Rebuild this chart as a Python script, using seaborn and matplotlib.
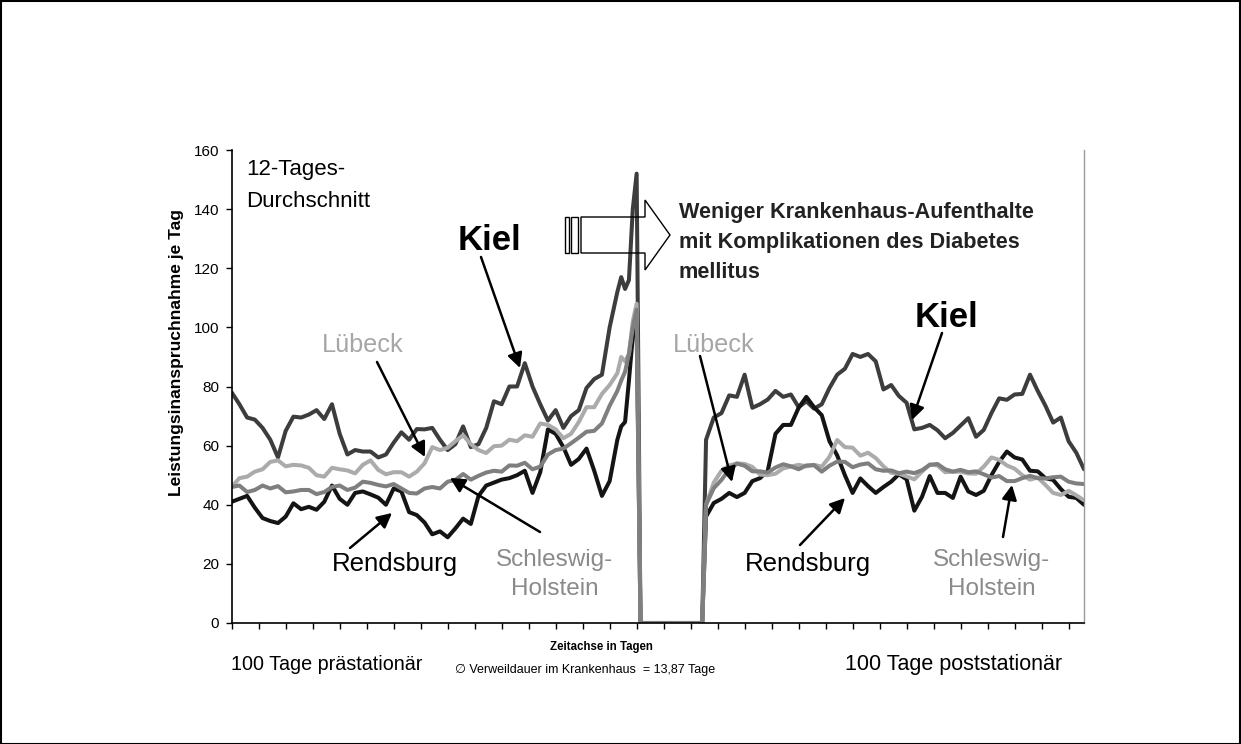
import numpy as np
import pandas as pd
import matplotlib
matplotlib.use("Agg")
import matplotlib.pyplot as plt
import seaborn as sns
from matplotlib.patches import Rectangle, Polygon, FancyArrowPatch

# ---------------- data ----------------
days_pre = list(range(0, 101, 2)) + [101, 102, 103, 104, 105]
days_hosp = [106, 122]
days_post = list(range(123, 222, 2))

kiel_pre = [78, 74, 69.5, 68.8, 66, 62, 56, 65, 69.8, 69.5, 70.5, 72, 69, 74, 64, 57, 58.5, 58, 58, 56,
            57, 61, 64.5, 62, 65.6, 65.5, 66, 62, 58.5, 60.5, 66.5, 59.5, 60.5, 66, 75, 74, 80, 80, 87.9, 80,
            74, 68.5, 72, 66, 70, 72, 79.5, 82.5, 84, 100, 112, 117, 113, 116, 140, 152]
rendsburg_pre = [41, 42, 43, 39, 35.5, 34.5, 33.8, 36, 40.5, 38.5, 39.3, 38.3, 41, 46.5, 42, 40, 44, 44.5, 43.5, 42.4,
                 40, 45.5, 44.5, 37.5, 36.5, 34, 30, 31, 29, 32, 35.3, 33.5, 43, 46.5, 47.5, 48.5, 49, 50, 51.5, 44,
                 51, 65.5, 64, 59.5, 53.5, 55.5, 59, 51.5, 43, 48, 62, 66.5, 68, 82, 97, 100]
luebeck_pre = [46, 49, 49.5, 51.2, 52, 54.5, 55, 53, 53.5, 53.3, 52.5, 50, 49.5, 52.5, 52, 51.6, 50.6, 53.5, 55, 51.8,
               50.3, 51, 51, 49.5, 51.2, 54, 59.5, 58.5, 59.3, 61.5, 63.5, 60.5, 58.5, 57.5, 59.8, 60, 62, 61.5, 63.5, 63,
               67.5, 67, 65.5, 62.5, 64, 68, 73, 73, 77.5, 80.5, 84.5, 90, 88.5, 91, 102, 108]
sh_pre = [46, 46.5, 44.3, 45, 46.5, 45.5, 46.3, 44.2, 44.5, 45, 45, 43.6, 44.3, 46, 46.5, 45, 45.8, 47.8, 47.4, 46.7,
          46.2, 47, 45.5, 44, 43.8, 45.5, 46, 45.5, 47.8, 48.4, 50.4, 48.5, 49.8, 50.9, 51.5, 51.2, 53.3, 53.2, 54.2, 52,
          52.9, 57, 58.5, 59, 60.8, 62.7, 64.7, 65, 67.5, 73.5, 78.5, 82, 85, 91, 100, 106]

hosp_values = [0, 0]

kiel_post = [62, 69.5, 71, 77, 76.5, 84, 72.8, 74, 75.6, 78.5, 76.5, 77.3, 73, 75, 72.5, 74, 79.5, 84, 86, 91,
             90, 91, 88.5, 79, 80.5, 76.8, 74.5, 65.5, 66, 67, 65.2, 62.5, 64.3, 66.8, 69.3, 63, 65.3, 71, 76, 75.5,
             77.3, 77.5, 84, 78.5, 73.5, 67.8, 69.5, 61.5, 57.6, 52]
rendsburg_post = [36, 40.6, 42, 44, 42.6, 44, 48, 49, 51.5, 64, 67, 67, 72.8, 76.5, 73, 70.3, 61.5, 56.7, 50, 44,
                  48.9, 46.3, 44, 46, 47.8, 50.3, 48.6, 38, 42.7, 49.7, 44, 44, 42.3, 49.5, 44.5, 43.3, 44.7, 50, 54.5, 58,
                  56, 55.3, 51.5, 51.3, 49, 48.4, 45.3, 42.7, 42.3, 40]
luebeck_post = [40, 47.5, 51.5, 53.3, 54, 53.8, 52.8, 50.2, 50, 50.5, 52.3, 52.9, 53.5, 53, 53.5, 52.9, 56.2, 61.9, 59.5, 59.3,
                56.6, 57.6, 55.8, 53, 50.8, 50.5, 49.6, 48.6, 51.2, 53.6, 53.3, 51, 51.2, 51.2, 50.6, 50.5, 52.9, 56, 55.2, 53.3,
                52.2, 50, 48.5, 49.2, 46.7, 44, 43.3, 44.7, 43.2, 41.5]
sh_post = [40, 45.6, 48.4, 52, 53.9, 53.2, 51.3, 51.3, 50.9, 52.6, 53.7, 53, 52, 53.3, 53.4, 51.2, 53.2, 54.6, 54.5, 52.7,
           53.6, 54, 52, 51.5, 51.6, 50.7, 51.2, 50.7, 51.7, 53.5, 53.8, 52, 51.2, 51.8, 51, 51.3, 50.3, 49.2, 49.7, 48,
           48, 49, 49.8, 49, 48.9, 49.3, 49.5, 47.8, 47.2, 47]

regions = ["Kiel", "Rendsburg", "Lübeck", "Schleswig-Holstein"]
y_ticks = [0, 20, 40, 60, 80, 100, 120, 140, 160]

# ---------------- figure ----------------
W, H = 1241, 744
sns.set_theme(style="white")
plt.rcParams["font.family"] = ["Liberation Sans", "DejaVu Sans"]

def P(x, y):
    return (x / W, 1 - y / H)

days = days_pre + days_hosp + days_post
series = {
    "Kiel": kiel_pre + hosp_values + kiel_post,
    "Rendsburg": rendsburg_pre + hosp_values + rendsburg_post,
    "Lübeck": luebeck_pre + hosp_values + luebeck_post,
    "Schleswig-Holstein": sh_pre + hosp_values + sh_post,
}
df = pd.concat([pd.DataFrame({"Tag": days, "Wert": v, "Region": k}) for k, v in series.items()],
               ignore_index=True)
palette = {"Kiel": "#3d3d3d", "Rendsburg": "#141414", "Lübeck": "#ababab", "Schleswig-Holstein": "#7f7f7f"}

fig = plt.figure(figsize=(W / 100, H / 100), dpi=100)
fig.patch.set_facecolor("white")
x0, x1, ytop, ybot = 231.7, 1084, 150, 623
ax = fig.add_axes([x0 / W, 1 - ybot / H, (x1 - x0) / W, (ybot - ytop) / H])

sns.lineplot(data=df, x="Tag", y="Wert", hue="Region", hue_order=regions, palette=palette,
             estimator=None, sort=False, legend=False, ax=ax, linewidth=2.9,
             solid_joinstyle="round", solid_capstyle="round")

ax.set_xlim(0, 221)
ax.set_ylim(0, 160)
ax.set_yticks(y_ticks)
ax.set_yticklabels([str(t) for t in y_ticks], fontsize=11)
ax.set_xticks(np.arange(0, 222, 7))
ax.set_xticklabels([])
ax.set_xlabel("")
ax.set_ylabel("")
ax.tick_params(axis="both", direction="out", length=4, width=1, color="black",
               bottom=True, left=True, pad=5, labelcolor="black")
for s in ["left", "bottom"]:
    ax.spines[s].set_color("black")
    ax.spines[s].set_linewidth(1.2)
ax.spines["top"].set_visible(False)
ax.spines["right"].set_color("#9a9a9a")
ax.spines["right"].set_linewidth(1.0)
ax.grid(False)

# y-axis label
fig.text(*P(176, 353), "Leistungsinanspruchnahme je Tag", rotation=90, fontsize=12.5,
         fontweight="bold", ha="center", va="center", color="black")

# annotations
def t(x, y, s, size, color="black", weight="normal", ha="left"):
    fig.text(*P(x, y), s, fontsize=size, color=color, fontweight=weight, ha=ha, va="baseline")

t(246, 175, "12-Tages-", 16)
t(246, 207, "Durchschnitt", 16)
t(458, 250, "Kiel", 25, weight="bold")
t(915, 327, "Kiel", 25, weight="bold")
t(322, 352, "Lübeck", 18.2, color="#a6a6a6")
t(673, 352, "Lübeck", 18.2, color="#a6a6a6")
t(332, 571, "Rendsburg", 18.6)
t(745, 571, "Rendsburg", 18.6)
t(555, 566, "Schleswig-", 17.5, color="#8a8a8a", ha="center")
t(555, 595, "Holstein", 17.5, color="#8a8a8a", ha="center")
t(992, 566, "Schleswig-", 17.5, color="#8a8a8a", ha="center")
t(992, 595, "Holstein", 17.5, color="#8a8a8a", ha="center")
t(679, 218, "Weniger Krankenhaus-Aufenthalte", 15.6, color="#222222", weight="bold")
t(679, 248, "mit Komplikationen des Diabetes", 15.6, color="#222222", weight="bold")
t(679, 278, "mellitus", 15.6, color="#222222", weight="bold")
t(231, 670, "100 Tage prästationär", 14.2)
t(845, 670, "100 Tage poststationär", 15.5)
t(601, 650, "Zeitachse in Tagen", 8.3, weight="bold", ha="center")
t(455, 673, "\u2205 Verweildauer im Krankenhaus  = 13,87 Tage", 9.0)

# pointer arrows
arrows = [
    ((481, 257), (520, 368)),
    ((377, 362), (425, 457)),
    ((350, 548), (392, 513)),
    ((540, 532), (450, 478)),
    ((700, 356), (732, 482)),
    ((942, 333), (912, 420)),
    ((800, 545), (845, 498)),
    ((1003, 537), (1012, 485)),
]
for a, b in arrows:
    fig.add_artist(FancyArrowPatch(P(*a), P(*b), transform=fig.transFigure,
                                   arrowstyle="-|>,head_length=0.55,head_width=0.28",
                                   mutation_scale=16, lw=1.8, color="black",
                                   shrinkA=0, shrinkB=0))

# striped block arrow
for xa, xb in [(565, 569), (571, 578)]:
    fig.add_artist(Polygon([P(xa, 217), P(xb, 217), P(xb, 253), P(xa, 253)], closed=True,
                           fill=False, lw=1, edgecolor="black", transform=fig.transFigure))
fig.add_artist(Polygon([P(581, 217), P(645, 217), P(645, 200), P(670, 235), P(645, 270),
                        P(645, 253), P(581, 253)], closed=True, fill=False, lw=1,
                       edgecolor="black", transform=fig.transFigure))

# outer border
fig.add_artist(Rectangle((0.5 / W, 0.5 / H), (W - 1.5) / W, (H - 1.5) / H, fill=False,
                         lw=1.5, edgecolor="black", transform=fig.transFigure))

fig.savefig("out.png", dpi=100)
